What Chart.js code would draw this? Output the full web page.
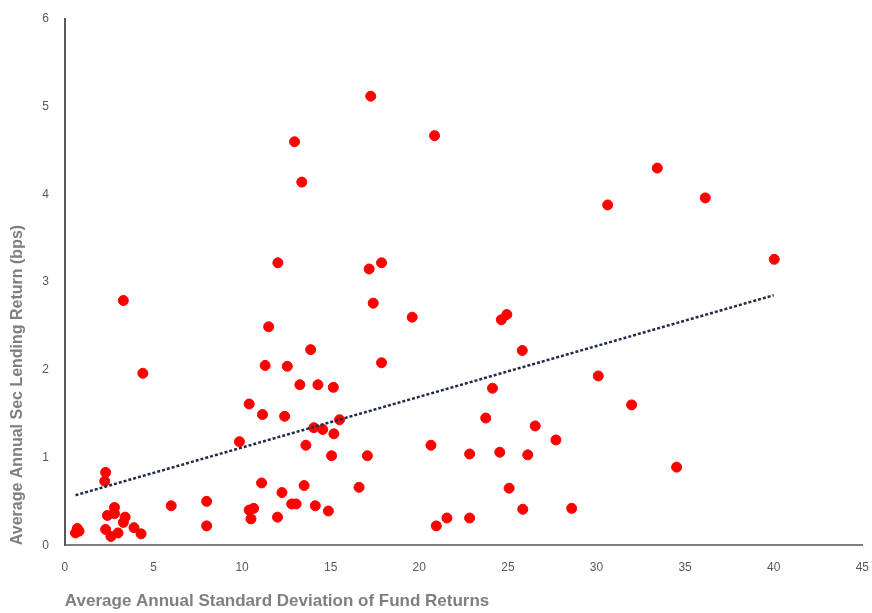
<!DOCTYPE html>
<html>
<head>
<meta charset="utf-8">
<title>Sec Lending Return vs Fund Volatility</title>
<script src="https://cdn.jsdelivr.net/npm/chart.js@4/dist/chart.umd.min.js"></script>
<style>
    html, body { margin: 0; padding: 0; background: #fff; }
    #wrap { width: 872px; height: 613px; }
</style>
</head>
<body>
<div id="wrap"><canvas id="scatterChart" width="872" height="613"></canvas></div>
<script>
// Average annual standard deviation of fund returns (x)
const stdDev = [0.6, 0.7, 0.8, 2.3, 2.25, 2.4, 2.8, 2.8, 2.3, 2.6, 3.0, 3.4, 3.3, 3.9, 4.3,
    3.3, 4.4, 6.0, 8.0, 8.0, 9.85, 10.4, 11.15, 12.4, 11.3, 12.55, 11.5, 11.1, 12.25,
    10.4, 10.65, 10.5, 12.0, 12.8, 13.05, 17.26, 20.86, 12.96, 13.37, 12.02, 17.87,
    17.17, 17.4, 19.6, 13.87, 13.26, 14.28, 15.15, 15.5, 14.05, 14.55, 15.18, 13.6,
    15.05, 17.07, 20.66, 13.5, 16.6, 14.13, 14.87, 20.96, 21.56, 17.87, 33.43, 30.63,
    24.94, 24.63, 25.81, 30.1, 24.13, 31.98, 23.75, 26.54, 27.71, 22.84, 24.54, 26.12,
    25.07, 25.84, 28.6, 22.84, 36.14, 40.03, 34.52];

// Average annual sec lending return, bps (y)
const lendingReturn = [0.14, 0.19, 0.16, 0.83, 0.73, 0.34, 0.43, 0.36, 0.18, 0.10, 0.14, 0.32, 0.26, 0.20, 0.13,
    2.79, 1.96, 0.45, 0.50, 0.22, 1.18, 1.61, 1.49, 1.47, 2.05, 2.04, 2.49, 0.71, 0.60,
    0.40, 0.42, 0.30, 0.32, 0.47, 0.47, 5.12, 4.67, 4.60, 4.14, 3.22, 3.22,
    3.15, 2.76, 2.60, 2.23, 1.83, 1.83, 1.80, 1.43, 1.34, 1.32, 1.27, 1.14,
    1.02, 1.02, 1.14, 0.68, 0.66, 0.45, 0.39, 0.22, 0.31, 2.08, 4.30, 3.88,
    2.63, 2.57, 2.22, 1.93, 1.79, 1.60, 1.45, 1.36, 1.20, 1.04, 1.06, 1.03,
    0.65, 0.41, 0.42, 0.31, 3.96, 3.26, 0.89];

// Linear trendline ends
const trendX = [0.6, 40.0];
const trendY = [0.57, 2.85];

const xTicks = [0, 5, 10, 15, 20, 25, 30, 35, 40, 45];
const yTicks = [0, 1, 2, 3, 4, 5, 6];

const xTitle = "Average Annual Standard Deviation of Fund Returns";
const yTitle = "Average Annual Sec Lending Return (bps)";

document.addEventListener("DOMContentLoaded", function() {
    renderChart();
});

function renderChart() {
    const ctx = document.getElementById("scatterChart").getContext("2d");
    const points = stdDev.map(function(x, i) { return { x: x, y: lendingReturn[i] }; });
    const trend = trendX.map(function(x, i) { return { x: x, y: trendY[i] }; });
    const family = "'Liberation Sans Narrow', 'Arial Narrow', 'Liberation Sans', sans-serif";
    const tickFont = { family: family, size: 12 };

    // invisible tick marks keep the label gap without extra side padding
    const hiddenGrid = function(len) {
        return { display: true, drawOnChartArea: false, drawTicks: true, tickLength: len, color: "rgba(0,0,0,0)" };
    };

    new Chart(ctx, {
        type: "scatter",
        data: {
            datasets: [{
                label: "Funds",
                data: points,
                backgroundColor: "#ff0000",
                borderColor: "#ff0000",
                pointRadius: 5,
                pointHoverRadius: 5,
                order: 1
            }, {
                type: "line",
                label: "Linear trend",
                data: trend,
                borderColor: "#1f2c4a",
                borderWidth: 2.5,
                borderDash: [3, 2],
                pointRadius: 0,
                fill: false,
                order: 0
            }]
        },
        options: {
            responsive: false,
            animation: false,
            layout: { padding: { top: 19, right: 0, bottom: 1, left: 4 } },
            plugins: {
                legend: { display: false },
                tooltip: { enabled: false }
            },
            scales: {
                x: {
                    type: "linear",
                    min: 0,
                    max: 45,
                    afterBuildTicks: function(axis) {
                        axis.ticks = xTicks.map(function(v) { return { value: v }; });
                    },
                    grid: hiddenGrid(12),
                    border: { display: true, color: "#7f7f7f", width: 2 },
                    ticks: { color: "#595959", font: tickFont, padding: 3 },
                    title: {
                        display: true,
                        text: xTitle,
                        align: "start",
                        color: "#7f7f7f",
                        font: { family: family, size: 17, weight: "bold" },
                        padding: { top: 14, bottom: 0 }
                    }
                },
                y: {
                    type: "linear",
                    min: 0,
                    max: 6,
                    afterBuildTicks: function(axis) {
                        axis.ticks = yTicks.map(function(v) { return { value: v }; });
                    },
                    grid: hiddenGrid(13),
                    border: { display: true, color: "#595959", width: 2 },
                    ticks: { color: "#595959", font: tickFont, padding: 3 },
                    title: {
                        display: true,
                        text: yTitle,
                        align: "start",
                        color: "#7f7f7f",
                        font: { family: family, size: 16, weight: "bold" },
                        padding: { top: 4, bottom: 12 }
                    }
                }
            }
        }
    });
}
</script>
</body>
</html>
